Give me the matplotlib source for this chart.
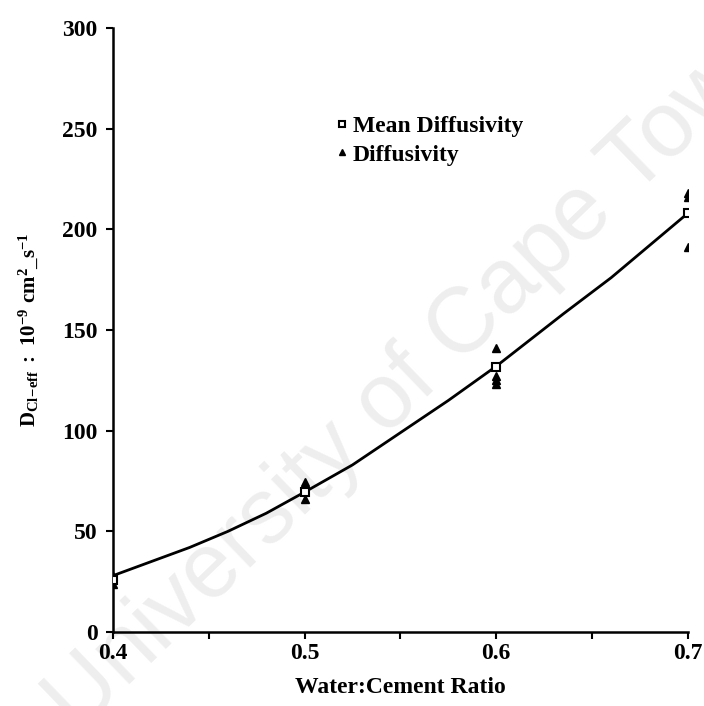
import matplotlib
matplotlib.use('Agg')
import matplotlib.pyplot as plt

# water:cement ratio of each sample
wc_mean = [0.4, 0.5, 0.6, 0.7]
d_mean = [26, 69.5, 131.5, 208]

wc_points = [0.4, 0.4, 0.5, 0.5, 0.6, 0.6, 0.6, 0.6, 0.7, 0.7, 0.7]
d_points = [28, 24, 74.5, 66, 141, 127, 125, 123, 218, 216, 191]

# fitted curve
wc_fit = [0.40, 0.42, 0.44, 0.46, 0.48, 0.50, 0.525, 0.55, 0.575, 0.60, 0.635, 0.66, 0.68, 0.70]
d_fit = [28, 35, 42, 50, 59, 69.5, 83, 99, 115, 132, 158, 176, 192, 208]

plt.rcParams['font.family'] = ['Liberation Serif', 'DejaVu Serif']
plt.rcParams['font.weight'] = 'bold'
plt.rcParams['mathtext.fontset'] = 'custom'
plt.rcParams['mathtext.rm'] = 'Liberation Serif:bold'
plt.rcParams['mathtext.bf'] = 'Liberation Serif:bold'
plt.rcParams['mathtext.it'] = 'Liberation Serif:bold'

fig = plt.figure(figsize=(7.04, 7.06), dpi=100)
ax = fig.add_axes([0.1605, 0.1048, 0.8165, 0.8555])

# faint watermark behind the plot
fig.text(0.59, 0.47, 'University of Cape Town', fontsize=66, color='#eeeeee',
         family='Liberation Sans', weight='normal', rotation=44,
         ha='center', va='center', zorder=-1)
ax.patch.set_alpha(0)

ax.plot(wc_fit, d_fit, '-', color='black', linewidth=2, zorder=2)
ax.plot(wc_points, d_points, '^', color='black', markersize=5.5,
        linestyle='none', label='Diffusivity', zorder=3)
ax.plot(wc_mean, d_mean, 's', markerfacecolor='white', markeredgecolor='black',
        markeredgewidth=1.5, markersize=6, linestyle='none',
        label='Mean Diffusivity', zorder=4)

ax.set_xlim(0.4, 0.7)
ax.set_ylim(0, 300)
ax.set_xticks([0.4, 0.5, 0.6, 0.7])
ax.set_xticklabels(['0.4', '0.5', '0.6', '0.7'])
ax.set_xticks([0.45, 0.55, 0.65], minor=True)
ax.set_yticks([0, 50, 100, 150, 200, 250, 300])
ax.tick_params(axis='both', which='both', direction='out', length=5, width=1.5,
               labelsize=17)
ax.tick_params(axis='x', pad=3)
ax.tick_params(axis='y', pad=6)
for lab in ax.get_xticklabels() + ax.get_yticklabels():
    lab.set_fontweight('bold')

for side in ['top', 'right']:
    ax.spines[side].set_visible(False)
for side in ['left', 'bottom']:
    ax.spines[side].set_linewidth(1.8)

ax.set_xlabel('Water:Cement Ratio', fontsize=17, fontweight='bold', labelpad=9)
ax.set_ylabel(r'$\mathbf{D_{Cl\!-\!eff}\ :\ 10^{-9}\ cm^{2}\_s^{-1}}$',
              fontsize=15, labelpad=16)

handles, labels = ax.get_legend_handles_labels()
leg = ax.legend(handles[::-1], labels[::-1], loc='upper left',
                bbox_to_anchor=(0.37, 0.871), frameon=False, fontsize=17,
                handlelength=0.6, handletextpad=0.15, labelspacing=0.3,
                markerscale=0.8, borderaxespad=0)
for t in leg.get_texts():
    t.set_fontweight('bold')

plt.savefig('out.png', dpi=100)
plt.close()
